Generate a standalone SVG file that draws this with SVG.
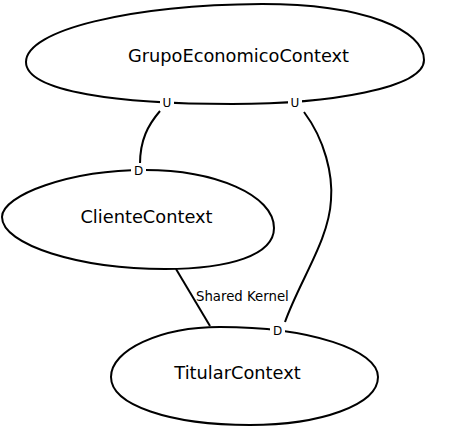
<svg xmlns="http://www.w3.org/2000/svg" width="472" height="428" viewBox="0 0 472 428">
<style>
.shape{fill:none;stroke:#000;stroke-width:2}
.edge{fill:none;stroke:#000;stroke-width:2}
.name{font-family:"DejaVu Sans",sans-serif;font-size:17.8px;text-anchor:middle;fill:#000}
.lbl{font-family:"DejaVu Sans",sans-serif;font-size:12px;text-anchor:middle;fill:#000}
.elbl{font-family:"DejaVu Sans",sans-serif;font-size:13.3px;fill:#000}
.bg{fill:#fff}
</style>
<rect width="472" height="428" fill="#fff"/>
<g id="connectors">
<path class="edge" d="M160,111 C148,125 140,140 140,164"/>
<path class="edge" d="M304,112 C325,140 333,175 331,200 C329,240 300,280 285,322"/>
<path class="edge" d="M176,269 L210,326"/>
<text class="elbl" x="196" y="300.5">Shared Kernel</text>
</g>
<g id="GrupoEconomicoContext">
<path class="shape" d="M26,62 C26,30 130,5 262,4 C365,4 424,30 424,60 C424,88 330,104 232,104 C120,104 26,92 26,62 Z"/>
<text class="name" x="238.5" y="62">GrupoEconomicoContext</text>
</g>
<g id="ClienteContext">
<path class="shape" d="M2,217 C2,195 70,170 145,170 C215,170 274,195 274,228 C274,255 230,269 165,269 C80,269 2,245 2,217 Z"/>
<text class="name" x="146.5" y="223">ClienteContext</text>
</g>
<g id="TitularContext">
<path class="shape" d="M111,377 C111,350 160,327 220,327 C310,327 378,350 378,377 C378,405 320,425 250,425 C170,425 111,405 111,377 Z"/>
<text class="name" x="237.5" y="379">TitularContext</text>
</g>
<g id="labels">
<rect class="bg" x="160" y="96" width="14" height="13"/>
<text class="lbl" x="167" y="107">U</text>
<rect class="bg" x="288" y="96" width="14" height="13"/>
<text class="lbl" x="295" y="107">U</text>
<rect class="bg" x="131" y="163" width="15" height="13"/>
<text class="lbl" x="138.7" y="175">D</text>
<rect class="bg" x="270" y="323" width="15" height="13"/>
<text class="lbl" x="277.7" y="335">D</text>
</g>
</svg>
